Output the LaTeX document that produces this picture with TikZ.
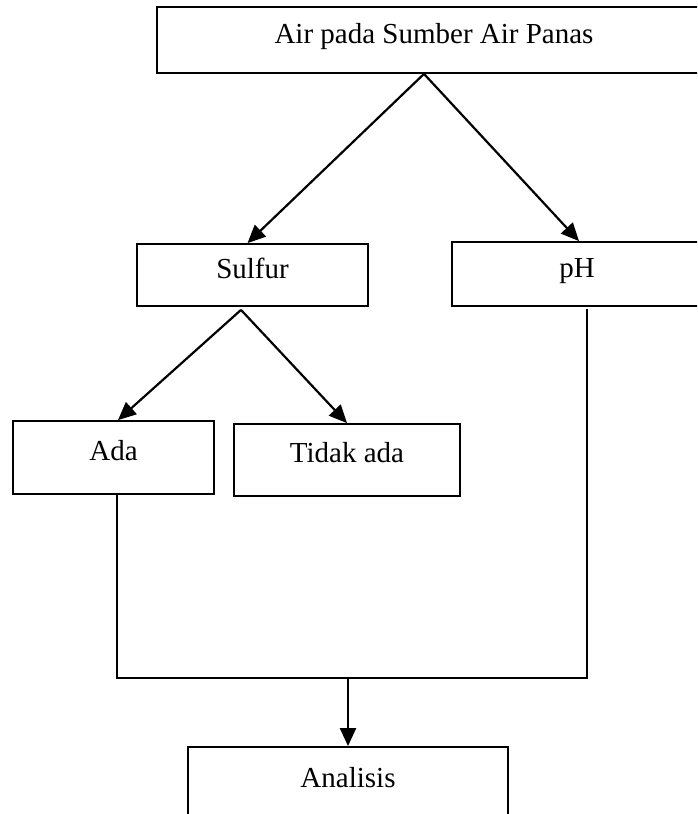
\documentclass[tikz,border=0pt]{standalone}
\usepackage{fontspec}
\setmainfont{Liberation Serif}
\usetikzlibrary{arrows.meta, positioning, calc}

\begin{document}
\begin{tikzpicture}[
    x=1pt, y=-1pt,
    box/.style={rectangle, draw, line width=1.8pt, inner sep=0pt, text height=1em, text depth=0.25em},
    lowbox/.style={box, text depth=0.45em},
    arrow/.style={-{Triangle[length=18pt, width=16pt]}, line width=2.2pt},
    link/.style={line width=1.6pt},
    font=\fontsize{29}{34}\selectfont
]
\clip (0,0) rectangle (697,814);

% Source
\node[box, minimum width=554pt, minimum height=66pt] (source) at (434,40) {Air pada Sumber Air Panas};

% Parameters
\node[box, minimum width=231pt, minimum height=62pt] (sulfur) at (252.5,275) {Sulfur};
\node[box, minimum width=250pt, minimum height=64pt] (ph) at (577,274) {pH};

% Sulfur result
\node[lowbox, minimum width=201pt, minimum height=73pt] (ada) at (113.5,457.5) {Ada};
\node[lowbox, minimum width=226pt, minimum height=72pt] (tidakada) at (347,460) {Tidak ada};

% Analysis
\node[lowbox, minimum width=320pt, minimum height=76pt] (analisis) at (348,785) {Analisis};

% Arrows and connections
\draw[arrow] ([xshift=-10pt]source.south) -- ([xshift=-5pt]sulfur.north);
\draw[arrow] ([xshift=-10pt]source.south) -- ([xshift=2pt]ph.north);

\draw[arrow] ([xshift=-11.5pt, yshift=-3pt]sulfur.south) -- ([xshift=4.5pt]ada.north);
\draw[arrow] ([xshift=-11.5pt, yshift=-3pt]sulfur.south) -- (tidakada.north);

\coordinate (join) at (348,678);
\draw[link] ([xshift=3.5pt]ada.south) |- (join) -| ([xshift=10pt, yshift=-2pt]ph.south);
\draw[arrow] (join) -- (analisis.north);

\end{tikzpicture}
\end{document}
